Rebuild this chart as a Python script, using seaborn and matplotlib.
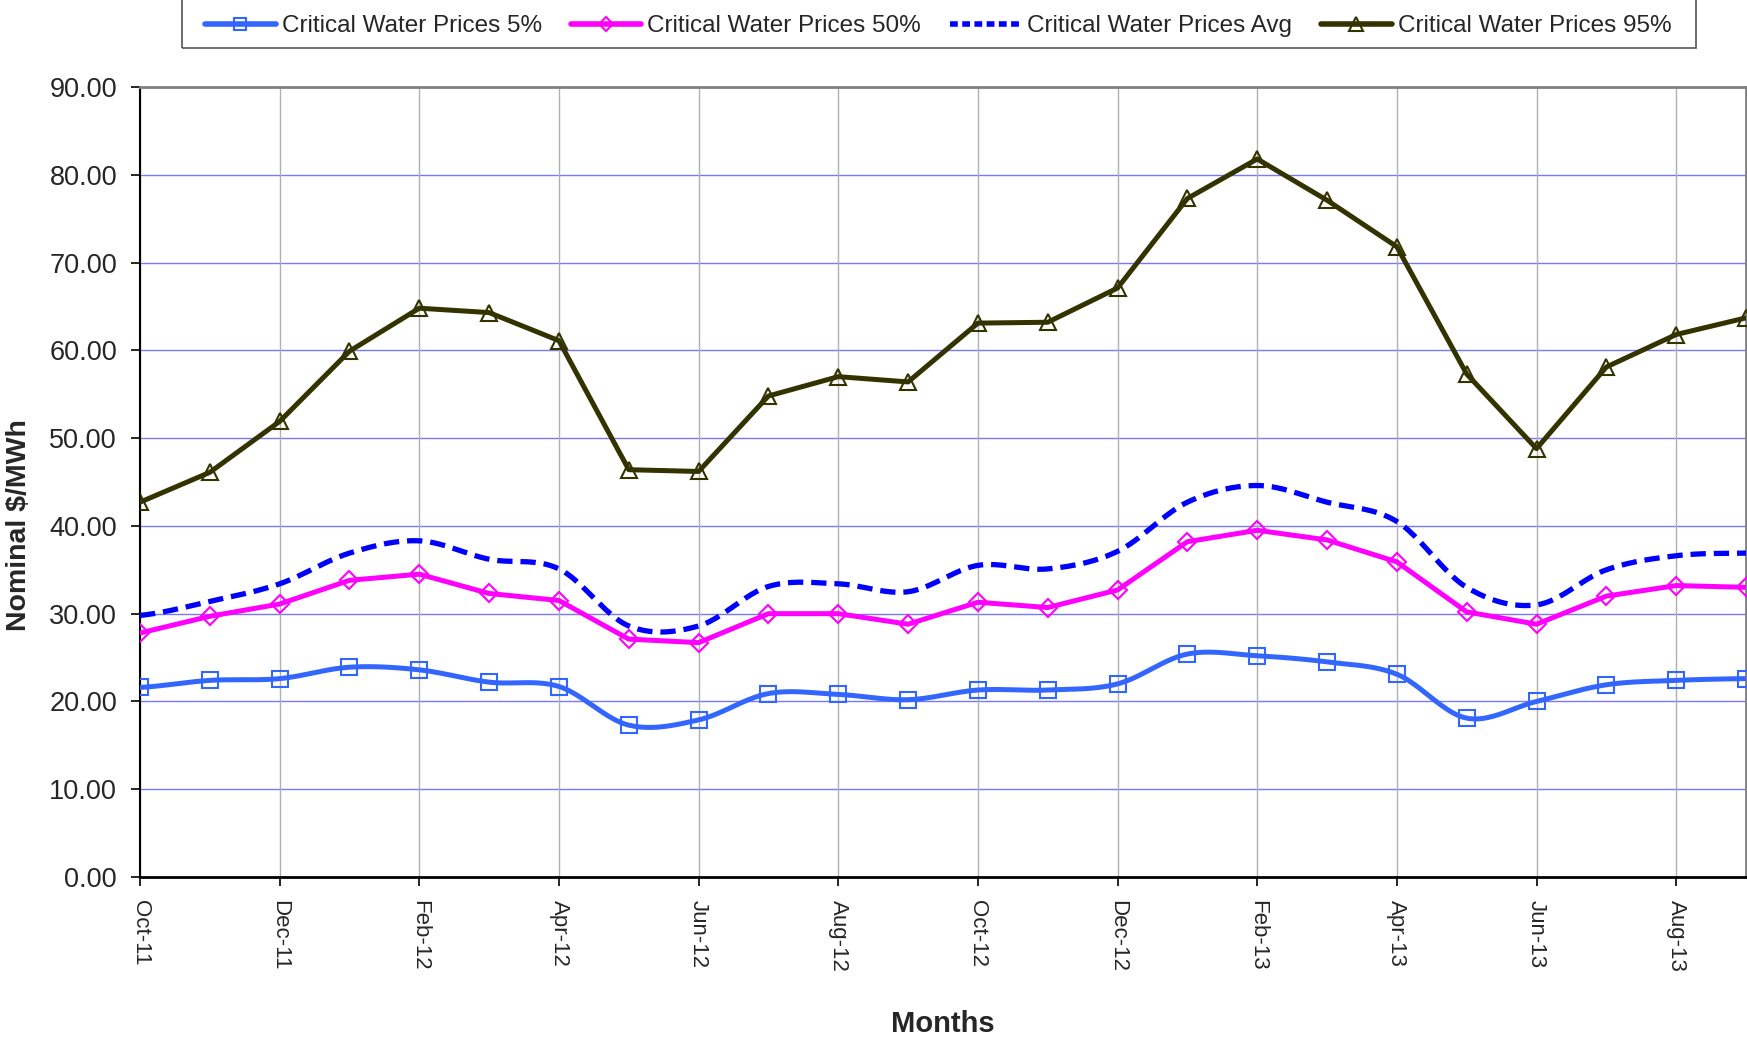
import numpy as np
import pandas as pd
import matplotlib
matplotlib.use("Agg")
import matplotlib.pyplot as plt
from matplotlib.lines import Line2D
from matplotlib.patches import Rectangle
import seaborn as sns

months = ["Oct-11", "Nov-11", "Dec-11", "Jan-12", "Feb-12", "Mar-12", "Apr-12", "May-12",
          "Jun-12", "Jul-12", "Aug-12", "Sep-12", "Oct-12", "Nov-12", "Dec-12", "Jan-13",
          "Feb-13", "Mar-13", "Apr-13", "May-13", "Jun-13", "Jul-13", "Aug-13", "Sep-13"]

p05 = [21.6, 22.4, 22.6, 23.9, 23.6, 22.2, 21.7, 17.3, 17.9, 20.9, 20.8, 20.2,
       21.3, 21.3, 22.0, 25.4, 25.2, 24.5, 23.1, 18.1, 20.0, 21.9, 22.4, 22.6]
p50 = [27.8, 29.7, 31.1, 33.8, 34.5, 32.3, 31.5, 27.1, 26.7, 30.0, 30.0, 28.8,
       31.3, 30.7, 32.7, 38.2, 39.5, 38.4, 35.9, 30.2, 28.8, 32.0, 33.2, 33.0]
pavg = [29.8, 31.4, 33.4, 36.9, 38.3, 36.2, 35.1, 28.6, 28.6, 33.1, 33.4, 32.5,
        35.5, 35.1, 37.1, 42.7, 44.6, 42.7, 40.5, 33.0, 31.0, 35.0, 36.6, 36.9]
p95 = [42.7, 46.1, 51.9, 59.9, 64.8, 64.3, 61.1, 46.4, 46.2, 54.8, 57.0, 56.4,
       63.1, 63.2, 67.1, 77.3, 81.8, 77.1, 71.8, 57.3, 48.8, 58.1, 61.8, 63.7]

labels = ["Critical Water Prices 5%", "Critical Water Prices 50%",
          "Critical Water Prices Avg", "Critical Water Prices 95%"]
colors = ["#3366FF", "#FF00FF", "#0000FF", "#333300"]

x = np.arange(len(months))


def smooth(xs, ys, n=24):
    # Catmull-Rom curve through the points, like a smoothed spreadsheet line
    ys = np.asarray(ys, dtype=float)
    xs = np.asarray(xs, dtype=float)
    out_x, out_y = [], []
    for i in range(len(ys) - 1):
        y0 = ys[i - 1] if i > 0 else ys[i]
        y3 = ys[i + 2] if i + 2 < len(ys) else ys[i + 1]
        y1, y2 = ys[i], ys[i + 1]
        t = np.linspace(0, 1, n, endpoint=False)
        yy = 0.5 * (2 * y1 + (-y0 + y2) * t + (2 * y0 - 5 * y1 + 4 * y2 - y3) * t ** 2
                    + (-y0 + 3 * y1 - 3 * y2 + y3) * t ** 3)
        out_x.append(xs[i] + (xs[i + 1] - xs[i]) * t)
        out_y.append(yy)
    out_x.append([xs[-1]])
    out_y.append([ys[-1]])
    return np.concatenate(out_x), np.concatenate(out_y)


sns.set_theme(style="white")
plt.rcParams["font.family"] = ["Liberation Sans", "DejaVu Sans"]

fig = plt.figure(figsize=(17.47, 10.42), dpi=100)
ax = fig.add_axes([140 / 1747, 1 - 877 / 1042, 1606 / 1747, 790 / 1042])

LW = 3.6
MEW = 1.5

# 5% - smoothed line with hollow squares
sx, sy = smooth(x, p05)
sns.lineplot(x=sx, y=sy, ax=ax, color=colors[0], lw=LW, sort=False, zorder=3)
sns.lineplot(x=x, y=p05, ax=ax, lw=0, marker="s", markersize=12, markerfacecolor="none",
             markeredgecolor=colors[0], markeredgewidth=MEW, zorder=4)

# 50% - straight line with hollow diamonds
sns.lineplot(x=x, y=p50, ax=ax, color=colors[1], lw=LW, marker="D", markersize=8.7,
             markerfacecolor="none", markeredgecolor=colors[1], markeredgewidth=MEW, zorder=3)

# Avg - smoothed dashed line
sx, sy = smooth(x, pavg)
sns.lineplot(x=sx, y=sy, ax=ax, color=colors[2], lw=3.8, sort=False, zorder=3,
             linestyle=(0, (2.9, 1.5)))

# 95% - straight line with hollow triangles
sns.lineplot(x=x, y=p95, ax=ax, color=colors[3], lw=LW, marker="^", markersize=12,
             markerfacecolor="none", markeredgecolor=colors[3], markeredgewidth=MEW, zorder=3)

ax.set_xlim(0, len(months) - 1)
ax.set_ylim(0, 90)
ax.set_yticks(np.arange(0, 91, 10))
ax.set_yticklabels([f"{v:.2f}" for v in np.arange(0, 91, 10)], fontsize=19.5)
ax.set_xticks(x[::2])
ax.set_xticklabels(months[::2], rotation=-90, fontsize=16, va="top", ha="center")

ax.tick_params(axis="both", direction="out", length=6.5, width=1.2, color="black",
               left=True, bottom=True)
ax.tick_params(axis="y", pad=10)
ax.tick_params(axis="x", pad=10)

for v in range(10, 90, 10):
    ax.axhline(v, color="#7878FF", lw=1.0, zorder=1)
for v in x[::2]:
    ax.axvline(v, color="#B0B0B0", lw=1.0, zorder=1)

ax.spines["left"].set_color("black")
ax.spines["left"].set_linewidth(1.5)
ax.spines["bottom"].set_color("black")
ax.spines["bottom"].set_linewidth(2.0)
ax.spines["top"].set_color("#808080")
ax.spines["top"].set_linewidth(2.0)
ax.spines["right"].set_color("#808080")
ax.spines["right"].set_linewidth(2.0)

ax.set_ylabel("Nominal $/MWh", fontsize=20.5, fontweight="bold")
ax.yaxis.set_label_coords(-0.067, 0.445)
ax.set_xlabel("Months", fontsize=21, fontweight="bold")
ax.xaxis.set_label_coords(0.5, -0.168)

handles = [
    Line2D([], [], color=colors[0], lw=4, marker="s", markersize=9, markerfacecolor="none",
           markeredgecolor=colors[0], markeredgewidth=MEW),
    Line2D([], [], color=colors[1], lw=4, marker="D", markersize=7, markerfacecolor="none",
           markeredgecolor=colors[1], markeredgewidth=MEW),
    Line2D([], [], color=colors[2], lw=4, linestyle=(0, (1.4, 0.8))),
    Line2D([], [], color=colors[3], lw=4, marker="^", markersize=10, markerfacecolor="none",
           markeredgecolor=colors[3], markeredgewidth=MEW),
]
leg = fig.legend(handles, labels, loc="center", bbox_to_anchor=(0.537, 0.975), ncol=4,
                 fontsize=17.5, frameon=False, handlelength=2.9,
                 handletextpad=0.25, columnspacing=1.2, borderpad=0.5)

# legend box, its top runs off the figure like in the source image
fig.patches.append(Rectangle((182 / 1747, 1 - 48 / 1042), 1514 / 1747, 0.08,
                             transform=fig.transFigure, fill=False,
                             edgecolor="#555555", lw=1.2, zorder=5))

fig.savefig("out.png", dpi=100)
